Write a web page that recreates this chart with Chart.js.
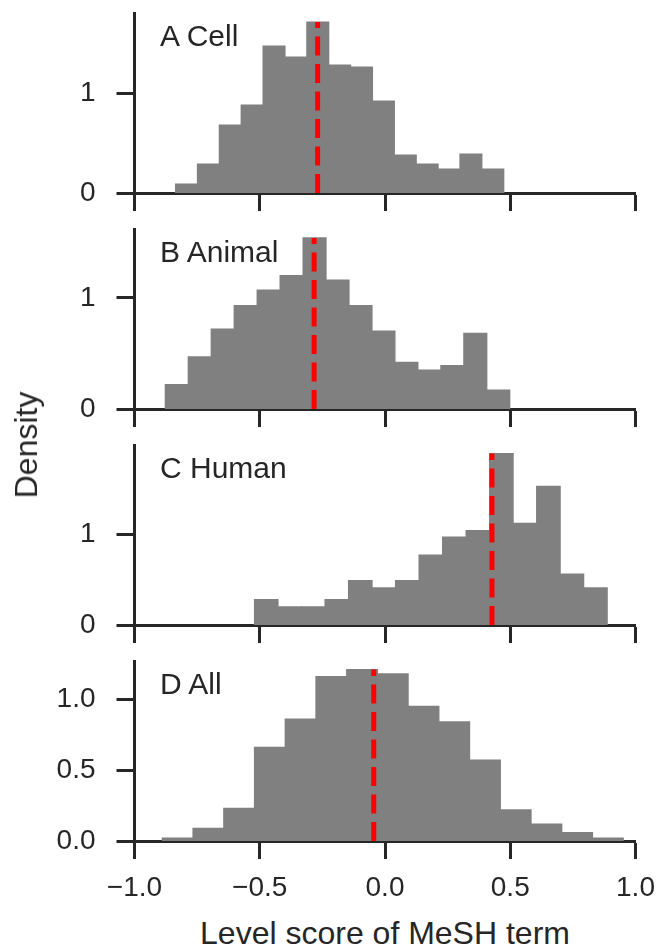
<!DOCTYPE html>
<html>
<head>
<meta charset="utf-8">
<script src="https://cdn.jsdelivr.net/npm/chart.js@4.4.0/dist/chart.umd.min.js"></script>
<style>
  html, body { margin: 0; padding: 0; background: #fff; }
  #wrap { position: relative; width: 658px; height: 949px; overflow: hidden;
          font-family: "Liberation Sans", Arial, sans-serif; color: #262626; }
  #wrap canvas { position: absolute; left: 0; }
  .tag { position: absolute; left: 160px; font-size: 30px; line-height: 30px; white-space: nowrap; }
  .axis-title { position: absolute; font-size: 32px; line-height: 32px; white-space: nowrap; }
</style>
</head>
<body>
<div id="wrap">
  <canvas id="cell" width="658" height="212" style="top:3px"></canvas>
  <canvas id="animal" width="658" height="212" style="top:219px"></canvas>
  <canvas id="human" width="658" height="212" style="top:435px"></canvas>
  <canvas id="all" width="658" height="260" style="top:651px"></canvas>

  <div class="tag" style="top:21px">A Cell</div>
  <div class="tag" style="top:237px">B Animal</div>
  <div class="tag" style="top:453px">C Human</div>
  <div class="tag" style="top:669px">D All</div>

  <div class="axis-title" style="left:26px; top:445px; transform: translate(-50%, -50%) rotate(-90deg);">Density</div>
  <div class="axis-title" style="left:385px; top:917px; transform: translateX(-50%);">Level score of MeSH term</div>
</div>

<script>
// histogram bins: [first edge, last edge] and density of each bin
const cellRange = [-0.836, 0.474];
const cellDensity = [0.09, 0.29, 0.68, 0.88, 1.47, 1.36, 1.71, 1.28, 1.26, 0.92, 0.38, 0.29, 0.24, 0.39, 0.24];
const cellMean = -0.269;

const animalRange = [-0.877, 0.498];
const animalDensity = [0.22, 0.47, 0.72, 0.93, 1.07, 1.20, 1.54, 1.16, 0.93, 0.70, 0.42, 0.35, 0.39, 0.68, 0.17];
const animalMean = -0.283;

const humanRange = [-0.521, 0.887];
const humanDensity = [0.28, 0.20, 0.20, 0.28, 0.49, 0.41, 0.49, 0.77, 0.97, 1.04, 1.89, 1.12, 1.53, 0.56, 0.41];
const humanMean = 0.427;

const allRange = [-0.889, 0.951];
const allDensity = [0.02, 0.09, 0.23, 0.66, 0.86, 1.16, 1.21, 1.18, 0.95, 0.84, 0.57, 0.22, 0.12, 0.06, 0.02];
const allMean = -0.045;

const xTicks = [-1, -0.5, 0, 0.5, 1];
const yTicksInt = [0, 1];
const yTicksHalf = [0, 0.5, 1];

const ink = '#262626';
const fontFamily = '"Liberation Sans", Arial, sans-serif';

function minusSign(s) {
  return s.replace('-', '\u2212');
}

function drawPanel(id, range, density, mean, yMax, yTicks, yDigits, showXLabels) {
  const w = (range[1] - range[0]) / density.length;
  const bars = density.map((d, i) => ({ x: range[0] + (i + 0.5) * w, y: d }));
  const peak = Math.max(...density);

  new Chart(document.getElementById(id), {
    type: 'bar',
    data: {
      datasets: [
        {
          type: 'line',
          data: [{ x: mean, y: 0 }, { x: mean, y: peak }],
          borderColor: '#ff0000',
          borderWidth: 5,
          borderDash: [19, 8.5],
          borderCapStyle: 'butt',
          pointRadius: 0,
          order: 0
        },
        {
          data: bars,
          backgroundColor: '#808080',
          borderWidth: 0,
          inflateAmount: 0.6,
          barPercentage: 1,
          categoryPercentage: 1,
          order: 1
        }
      ]
    },
    options: {
      responsive: false,
      animation: false,
      devicePixelRatio: 1,
      layout: { padding: { top: 10, right: 22.5, left: 0, bottom: 0 } },
      plugins: { legend: { display: false }, tooltip: { enabled: false } },
      scales: {
        x: {
          type: 'linear',
          min: -1,
          max: 1,
          offset: false,
          afterBuildTicks: s => { s.ticks = xTicks.map(v => ({ value: v })); },
          afterFit: s => {
            s.height = showXLabels ? 70 : 22;
            s.paddingLeft = 0;
            s.paddingRight = 0;
          },
          border: { color: ink, width: 3 },
          grid: { drawOnChartArea: false, offset: false, tickLength: 18, tickWidth: 3, tickColor: ink },
          ticks: {
            display: showXLabels,
            padding: 12,
            color: ink,
            maxRotation: 0,
            autoSkip: false,
            font: { family: fontFamily, size: 28 },
            callback: v => minusSign(Number(v).toFixed(1))
          }
        },
        y: {
          min: 0,
          max: yMax,
          afterBuildTicks: s => { s.ticks = yTicks.map(v => ({ value: v })); },
          afterFit: s => {
            s.width = 134.5;
            s.paddingTop = 0;
            s.paddingBottom = 0;
          },
          border: { color: ink, width: 3 },
          grid: { drawOnChartArea: false, tickLength: 18, tickWidth: 3, tickColor: ink },
          ticks: {
            padding: 21,
            color: ink,
            font: { family: fontFamily, size: 28 },
            callback: v => Number(v).toFixed(yDigits)
          }
        }
      }
    }
  });
}

drawPanel('cell', cellRange, cellDensity, cellMean, 1.80, yTicksInt, 0, false);
drawPanel('animal', animalRange, animalDensity, animalMean, 1.62, yTicksInt, 0, false);
drawPanel('human', humanRange, humanDensity, humanMean, 1.985, yTicksInt, 0, false);
drawPanel('all', allRange, allDensity, allMean, 1.27, yTicksHalf, 1, true);
</script>
</body>
</html>
